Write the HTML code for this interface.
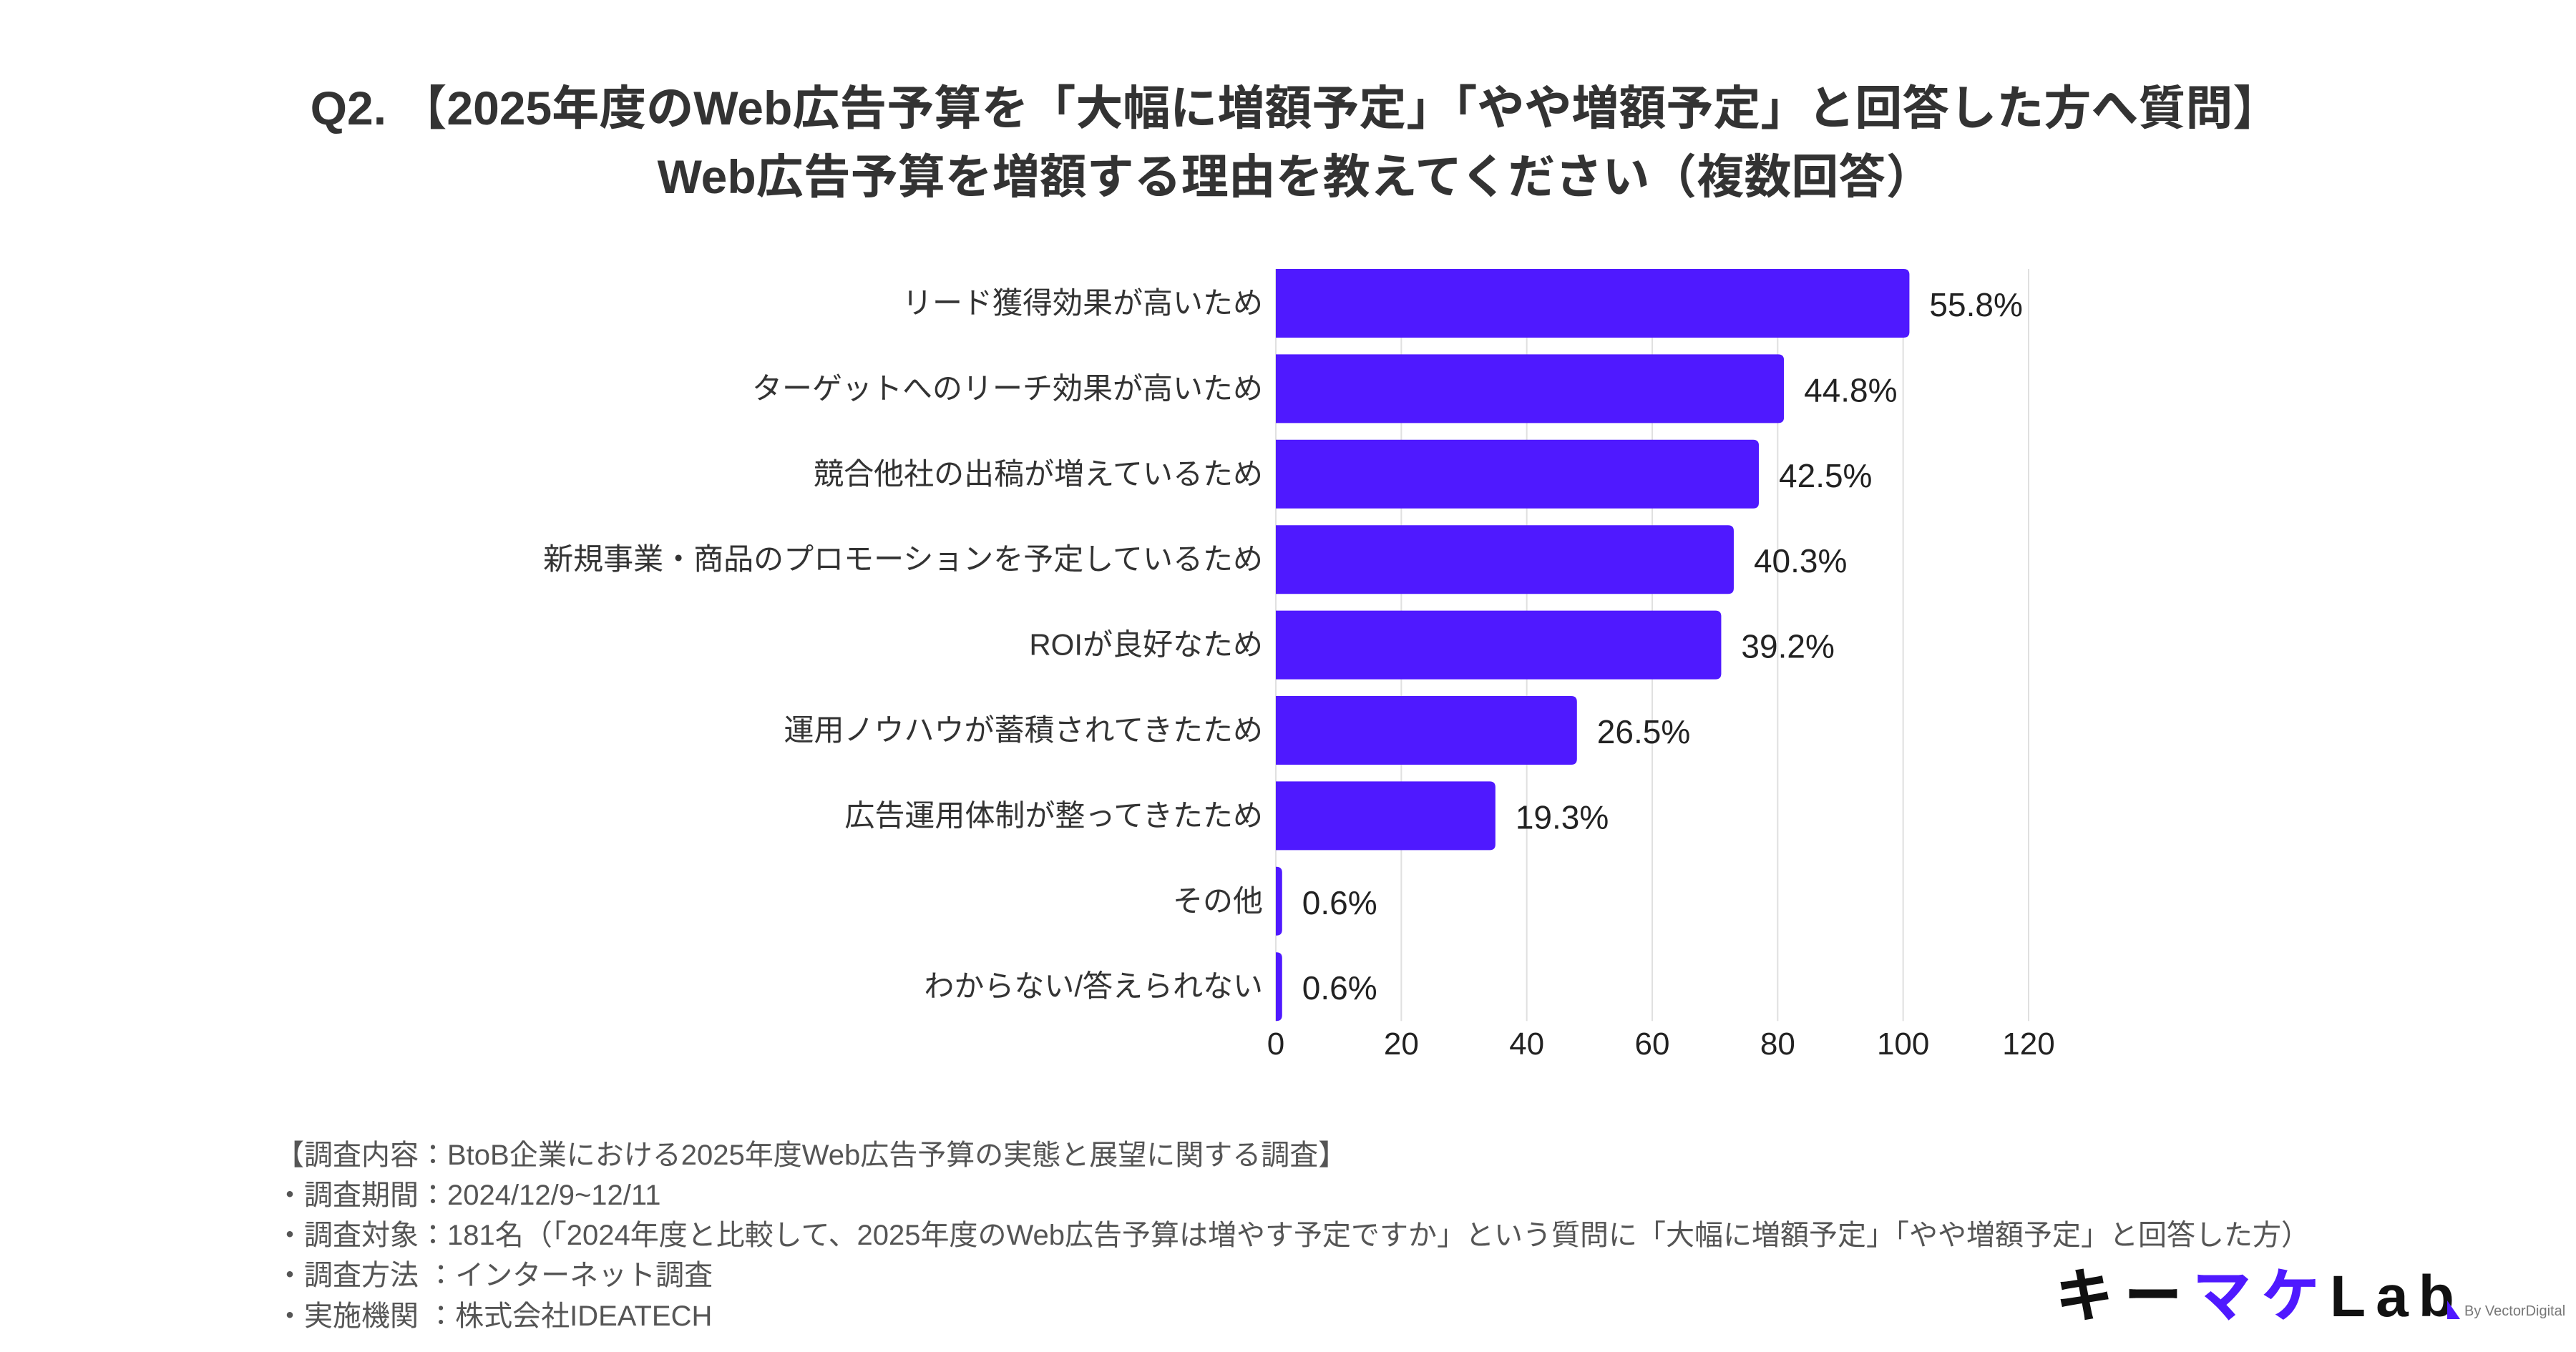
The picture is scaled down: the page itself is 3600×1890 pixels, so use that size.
<!DOCTYPE html>
<html><head><meta charset="utf-8"><style>
html,body{margin:0;padding:0;background:#fff;}
body{width:3600px;height:1890px;position:relative;overflow:hidden;font-family:"Liberation Sans","Noto Sans CJK JP",sans-serif;}
.title{position:absolute;left:0;width:3620px;text-align:center;font-weight:bold;font-size:66px;color:#333;}
.foot{position:absolute;left:385px;font-size:40px;color:#555;white-space:nowrap;}
</style></head><body>
<div class="title" style="top:98px">Q2. 【2025年度のWeb広告予算を「大幅に増額予定」「やや増額予定」と回答した方へ質問】</div>
<div class="title" style="top:194px">Web広告予算を増額する理由を教えてください（複数回答）</div>
<svg id="chart" width="3600" height="1890" style="position:absolute;left:0;top:0"></svg>
<div class="foot" style="top:1582px">【調査内容：BtoB企業における2025年度Web広告予算の実態と展望に関する調査】</div>
<div class="foot" style="top:1638px">・調査期間：2024/12/9~12/11</div>
<div class="foot" style="top:1694px">・調査対象：181名（「2024年度と比較して、2025年度のWeb広告予算は増やす予定ですか」という質問に「大幅に増額予定」「やや増額予定」と回答した方）</div>
<div class="foot" style="top:1750px">・調査方法 ：インターネット調査</div>
<div class="foot" style="top:1807px">・実施機関 ：株式会社IDEATECH</div>
<div style="position:absolute;left:2872px;top:1768px;height:90px;width:720px;">
<div style="position:absolute;left:0;top:0;font-size:82px;font-weight:bold;letter-spacing:14px;white-space:nowrap;line-height:90px;"><span style="color:#111">キー</span><span style="color:#4f19ff">マケ</span><span style="color:#111">Lab</span></div>
<div style="position:absolute;left:548px;top:50px;width:0;height:0;border-left:18px solid #4f19ff;border-top:26px solid transparent;"></div>
<div style="position:absolute;left:572px;top:54px;font-size:20px;color:#777;white-space:nowrap;">By VectorDigital</div>
</div>
<script>
const categories=["リード獲得効果が高いため","ターゲットへのリーチ効果が高いため","競合他社の出稿が増えているため","新規事業・商品のプロモーションを予定しているため","ROIが良好なため","運用ノウハウが蓄積されてきたため","広告運用体制が整ってきたため","その他","わからない/答えられない"];
const counts=[101,81,77,73,71,48,35,1,1];
const pctLabels=["55.8%","44.8%","42.5%","40.3%","39.2%","26.5%","19.3%","0.6%","0.6%"];
const ticks=[0,20,40,60,80,100,120];
const NS="http://www.w3.org/2000/svg";
const svg=document.getElementById('chart');
const x0=1783,x1=2835,xmax=120,top0=376,pitch=119.4,bh=96;
const xs=v=>x0+(x1-x0)*v/xmax;
function mk(t,a){const e=document.createElementNS(NS,t);for(const k in a)e.setAttribute(k,a[k]);svg.appendChild(e);return e;}
ticks.forEach((t,i)=>{
 const g=mk('line',{x1:xs(t),x2:xs(t),y1:top0,y2:top0+pitch*8+bh,stroke:'#e0e0e0','stroke-width':2});
 
 
 const l=mk('text',{x:xs(t),y:1474,'text-anchor':'middle','font-size':44,fill:'#222'});
 l.textContent=t;
 
 
});
categories.forEach((c,i)=>{
 const y=top0+pitch*i;
 const w=xs(counts[i])-x0;
 const r=mk('path',{d:`M${x0},${y} h${w-8} q8,0 8,8 v${bh-16} q0,8 -8,8 h${-(w-8)} z`,fill:'#4f19ff'});
 
 
 const t=mk('text',{x:1765,y:y+bh/2+14,'text-anchor':'end','font-size':42,fill:'#333'});
 t.textContent=c;
 
 
 const v=mk('text',{x:xs(counts[i])+28,y:y+bh/2+18,'font-size':46,fill:'#222'});
 v.textContent=pctLabels[i];
 
 
});
</script>
</body></html>
